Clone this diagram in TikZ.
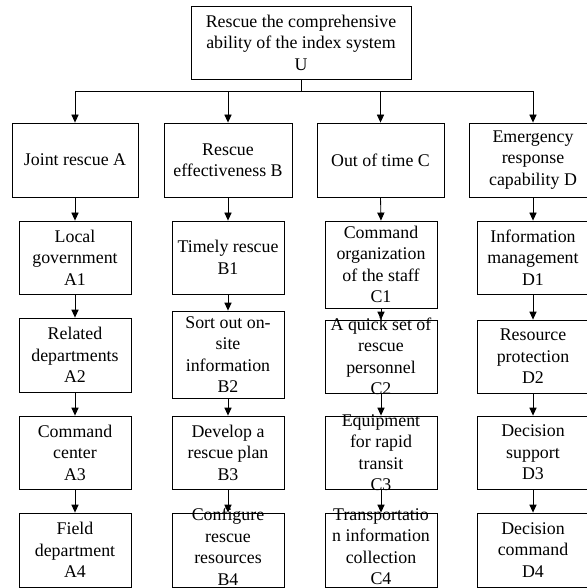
\documentclass[tikz,border=0pt]{standalone}
\usepackage{fontspec}
\setmainfont{Liberation Serif}
\usetikzlibrary{arrows.meta}

\begin{document}
\begin{tikzpicture}[
    x=0.25mm, y=-0.25mm,
    font=\fontsize{12.7pt}{15.3pt}\selectfont,
    head/.style ={draw, line width=0.6pt, minimum width=55mm, minimum height=18.25mm},
    crit/.style ={draw, line width=0.6pt, minimum height=18.5mm},
    sub/.style  ={draw, line width=0.6pt, minimum width=28mm, minimum height=18.25mm},
    txt/.style  ={align=center, inner sep=0pt},
    down/.style ={-{Triangle[length=2mm, width=1.8mm]}, line width=0.6pt},
  ]
  \useasboundingbox (0,0) rectangle (586,588);
  % goal
  \node[head] (u) at (301,42.5) {};
  \node[txt] (ut) at (u) {Rescue the comprehensive\\ability of the index system\\U};
  \draw[line width=0.6pt] (u.south) -- ++(0,12) coordinate (bus);
  % criteria
  \node[crit, minimum width=31.5mm]  (a) at (75,160)    {};
  \node[txt] (at) at (a) {Joint rescue A};
  \node[crit, minimum width=32mm]    (b) at (228,160)   {};
  \node[txt] (bt) at (b) {Rescue\\effectiveness B};
  \node[crit, minimum width=31.75mm] (c) at (380.5,160) {};
  \node[txt] (ct) at (c) {Out of time C};
  \node[crit, minimum width=32mm]    (d) at (533,160)   {};
  \node[txt] (dt) at (d) {Emergency\\response\\capability D};
  \draw[down] (bus) -| (a.north);
  \draw[down] (bus) -| (b.north);
  \draw[down] (bus) -| (c.north);
  \draw[down] (bus) -| (d.north);
  % column A
  \node[sub] (a1) at (75,257.5) {};
  \node[txt] (a1t) at (a1) {Local\\government\\A1};
  \node[sub, minimum height=18.5mm] (a2) at (75,355) {};
  \node[txt] (a2t) at (a2) {Related\\departments\\A2};
  \node[sub] (a3) at (75,452.5) {};
  \node[txt] (a3t) at (a3) {Command\\center\\A3};
  \node[sub, minimum height=18.5mm] (a4) at (75,550) {};
  \node[txt] (a4t) at (a4) {Field\\department\\A4};
  % column B
  \node[sub] (b1) at (228,257.5) {};
  \node[txt] (b1t) at (b1) {Timely rescue\\B1};
  \node[sub, minimum height=21.75mm] (b2) at (228,354.5) {};
  \node[txt] (b2t) at (b2) {Sort out on-\\site\\information\\B2};
  \node[sub] (b3) at (228,452.5) {};
  \node[txt] (b3t) at (b3) {Develop a\\rescue plan\\B3};
  \node[sub, minimum height=18.5mm] (b4) at (228,550) {};
  \node[txt] (b4t) at (228,546.5) {Configure\\rescue\\resources\\B4};
  % column C
  \node[sub, minimum height=21.75mm] (c1) at (381,264.5) {};
  \node[txt] (c1t) at (c1) {Command\\organization\\of the staff\\C1};
  \node[sub] (c2) at (381,356.5) {};
  \node[txt] (c2t) at (c2) {A quick set of\\rescue\\personnel\\C2};
  \node[sub] (c3) at (381,452.5) {};
  \node[txt] (c3t) at (c3) {Equipment\\for rapid\\transit\\C3};
  \node[sub, minimum height=18.5mm] (c4) at (381,550) {};
  \node[txt] (c4t) at (381,546.5) {Transportatio\\n information\\collection\\C4};
  % column D
  \node[sub] (d1) at (533,257.5) {};
  \node[txt] (d1t) at (d1) {Information\\management\\D1};
  \node[sub] (d2) at (533,356.5) {};
  \node[txt] (d2t) at (d2) {Resource\\protection\\D2};
  \node[sub] (d3) at (533,452.5) {};
  \node[txt] (d3t) at (d3) {Decision\\support\\D3};
  \node[sub, minimum height=18.5mm] (d4) at (533,550) {};
  \node[txt] (d4t) at (d4) {Decision\\command\\D4};
  % links
  \draw[down] (a.south) -- (a1.north);
  \draw[down] (a1.south) -- (a2.north);
  \draw[down] (a2.south) -- (a3.north);
  \draw[down] (a3.south) -- (a4.north);
  \draw[down] (b.south) -- (b1.north);
  \draw[down] (b1.south) -- (b2.north);
  \draw[down] (b2.south) -- (b3.north);
  \draw[down] (b3.south) -- (b4.north);
  \draw[down] (c.south) -- (c1.north);
  \draw[down] (c1.south) -- (c2.north);
  \draw[down] (c2.south) -- (c3.north);
  \draw[down] (c3.south) -- (c4.north);
  \draw[down] (d.south) -- (d1.north);
  \draw[down] (d1.south) -- (d2.north);
  \draw[down] (d2.south) -- (d3.north);
  \draw[down] (d3.south) -- (d4.north);
\end{tikzpicture}
\end{document}
